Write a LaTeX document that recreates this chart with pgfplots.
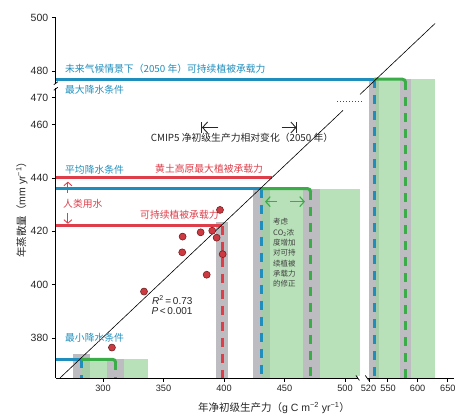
\documentclass[border=0pt]{standalone}
\usepackage{fontspec}
\setmainfont{Liberation Sans}
\newfontfamily\cjk{Noto Sans CJK SC}
\usepackage{pgfplots}
\pgfplotsset{compat=1.18}
\usetikzlibrary{arrows.meta}

\definecolor{cblue}{RGB}{32,142,188}
\definecolor{cred}{RGB}{222,62,74}
\definecolor{cgreen}{RGB}{58,172,72}
\definecolor{cgreenl}{RGB}{155,212,155}
\definecolor{cgray}{RGB}{188,188,193}
\definecolor{cpt}{RGB}{206,58,66}
\definecolor{cptd}{RGB}{110,35,35}

\begin{document}
\begin{tikzpicture}
\begin{axis}[
  x=1.21pt, y=2.667pt,
  xmin=261, xmax=590, ymin=365, ymax=500,
  axis lines*=left,
  axis line style={line width=0.8pt},
  clip=false,
  tick align=outside,
  major tick length=4pt,
  tick style={black, line width=0.8pt},
  xtick={300,350,400,450,500,520,535,560,585},
  xticklabels={300,350,400,450,500,\hspace*{-1.5pt}520,\hspace*{1.5pt}550,600,650},
  ytick={380,400,420,440,460,470,480,500},
  tick label style={font=\fontsize{10.5}{12}\selectfont, text=black!85},
  xticklabel style={font=\fontsize{9.2}{11}\selectfont},
  /pgf/number format/assume math mode=true,
  /pgf/number format/1000 sep={},
]
% gray bands round the current carrying capacity
\addplot[fill=cgray, draw=none] coordinates {(275.5,365) (289,365) (289,374) (275.5,374)};
\addplot[fill=cgray, draw=none] coordinates {(424,365) (438,365) (438,436.5) (424,436.5)};
\addplot[fill=cgray, draw=none] coordinates {(520,365) (528.3,365) (528.3,477.5) (520,477.5)};
\addplot[fill=cgray, draw=none] coordinates {(393.4,365) (403.3,365) (403.3,423.5) (393.4,423.5)};
% CO2 correction ranges
\addplot[fill=cgreenl, fill opacity=0.7, draw=none] coordinates {(283,365) (337.4,365) (337.4,372) (283,372)};
\addplot[fill=cgreenl, fill opacity=0.7, draw=none] coordinates {(431,365) (512.4,365) (512.4,436) (431,436)};
\addplot[fill=cgreenl, fill opacity=0.7, draw=none] coordinates {(525,365) (574.4,365) (574.4,477) (525,477)};
% gray bands round the 2050 capacity
\addplot[fill=cgray, draw=none] coordinates {(303,365) (317,365) (317,372) (303,372)};
\addplot[fill=cgray, draw=none] coordinates {(465,365) (479,365) (479,436) (465,436)};
\addplot[fill=cgray, draw=none] coordinates {(545.5,365) (554.3,365) (554.3,477) (545.5,477)};

% dashed verticals
\addplot[cblue, line width=3pt, dash pattern=on 9pt off 7pt] coordinates {(282.2,372) (282.2,365)};
\addplot[cblue, line width=3pt, dash pattern=on 9pt off 7pt] coordinates {(430.6,436) (430.6,365)};
\addplot[cblue, line width=3pt, dash pattern=on 9pt off 7pt] coordinates {(524.2,477) (524.2,365)};
\addplot[cred, line width=3pt, dash pattern=on 9pt off 7pt] coordinates {(398.6,422) (398.6,365)};
\addplot[cgreen, line width=3pt, dash pattern=on 9pt off 7pt] coordinates {(310.4,371.2) (310.4,365)};
\addplot[cgreen, line width=3pt, dash pattern=on 9pt off 7pt] coordinates {(471.5,435.2) (471.5,365)};
\addplot[cgreen, line width=3pt, dash pattern=on 9pt off 7pt] coordinates {(550,476.2) (550,365)};

% horizontal lines
\addplot[cblue, line width=3pt] coordinates {(261,372) (282.2,372)};
\addplot[cblue, line width=3pt] coordinates {(261,436) (430.6,436)};
\addplot[cblue, line width=3pt] coordinates {(261,477) (524.2,477)};
\addplot[cred, line width=3pt] coordinates {(261,440) (439.3,440)};
\addplot[cred, line width=3pt] coordinates {(261,422) (398.6,422)};
\addplot[cgreen, line width=3pt, rounded corners=3pt] coordinates {(282.2,372) (310.4,372) (310.4,370.8)};
\addplot[cgreen, line width=3pt, rounded corners=3pt] coordinates {(430.6,436) (471.5,436) (471.5,434.8)};
\addplot[cgreen, line width=3pt, rounded corners=3pt] coordinates {(524.2,477) (550,477) (550,475.8)};

% regression line (broken at the axis break)
\addplot[black, line width=0.6pt] coordinates {(264.5,365) (498.3,465.3)};
\addplot[black, line width=0.6pt] coordinates {(512.4,471.3) (574.4,497.9)};
\addplot[black!70, line width=1pt, dotted] coordinates {(493.4,468.6) (513.6,468.6)};

% observations
\addplot[only marks, mark=*, mark size=3.5pt, mark options={fill=cpt, draw=cptd, line width=0.6pt}]
  coordinates {(396.7,428.0) (365.8,418.0) (380.7,419.6) (390.3,420.2) (393.9,417.6)
               (365.5,412.1) (398.9,411.4) (385.7,403.7) (333.9,397.4) (307.4,376.4)};

% labels
\begin{scope}[every node/.style={inner sep=0pt, font=\fontsize{9.8}{11}\selectfont\cjk}]
\node[anchor=west, text=cblue] at (axis cs:268.6,480.9) {未来气候情景下（2050 年）可持续植被承载力};
\node[anchor=west, text=cblue] at (axis cs:268.6,473.0) {最大降水条件};
\node[anchor=west, text=cblue] at (axis cs:268.6,443.0) {平均降水条件};
\node[anchor=west, text=cblue] at (axis cs:268.6,380.0) {最小降水条件};
\node[anchor=west, text=cred] at (axis cs:343,443.4) {黄土高原最大植被承载力};
\node[anchor=west, text=cred] at (axis cs:267,430.2) {人类用水};
\node[anchor=west, text=cred] at (axis cs:330.6,426.1) {可持续植被承载力};
\node[text=black!85] at (axis cs:414.9,455) {CMIP5 净初级生产力相对变化（2050 年）};
\end{scope}
\node[anchor=north west, inner sep=0pt, align=left, text=black!75,
      font=\fontsize{7.5}{10.3}\selectfont\cjk] at (axis cs:440.5,424.8)
  {考虑\\CO\textsubscript{2}浓\\度增加\\对可持\\续植被\\承载力\\的修正};
\node[anchor=west, inner sep=0pt, font=\fontsize{10}{12}\selectfont, text=black!85]
  at (axis cs:340.5,394.2) {\textit{R}\textsuperscript{2}\,=\,0.73};
\node[anchor=west, inner sep=0pt, font=\fontsize{10}{12}\selectfont, text=black!85]
  at (axis cs:340,390.1) {\textit{P}\,<\,0.001};

% arrows
\draw[cred, line width=0.9pt, -{Straight Barb[length=3.5pt,width=8pt]}] (axis cs:271,434.4) -- (axis cs:271,438.6);
\draw[cred, line width=0.9pt, -{Straight Barb[length=3.5pt,width=8pt]}] (axis cs:271,426.9) -- (axis cs:271,422.8);
\draw[black!85, line width=0.9pt, -{Straight Barb[length=5pt,width=11pt]}] (axis cs:395.3,458.9) -- (axis cs:381.8,458.9);
\draw[black!85, line width=0.9pt] (axis cs:381.6,456.8) -- (axis cs:381.6,461);
\draw[black!85, line width=0.9pt, -{Straight Barb[length=5pt,width=11pt]}] (axis cs:447.7,458.9) -- (axis cs:459.9,458.9);
\draw[black!85, line width=0.9pt] (axis cs:460.1,456.8) -- (axis cs:460.1,461);
\draw[cgreen, line width=1.1pt, -{Straight Barb[length=4.5pt,width=10pt]}] (axis cs:443.5,431.1) -- (axis cs:433.9,431.1);
\draw[cgreen, line width=1.1pt, -{Straight Barb[length=4.5pt,width=10pt]}] (axis cs:454.5,431.1) -- (axis cs:466.9,431.1);

% axis titles
\node[rotate=90, font=\fontsize{10.5}{12}\selectfont, text=black!85] at (axis cs:233,429)
  {{\cjk 年蒸散量（}mm yr\textsuperscript{−1}{\cjk ）}};
\node[font=\fontsize{10.5}{12}\selectfont, text=black!85] at (axis cs:441.3,353.8)
  {{\cjk 年净初级生产力（}g C m\textsuperscript{−2} yr\textsuperscript{−1}{\cjk ）}};

\coordinate (yb1) at (axis cs:261,473.6);
\coordinate (yb2) at (axis cs:261,475.3);
\coordinate (xb1) at (axis cs:510.7,365);
\coordinate (xb2) at (axis cs:518,365);
\coordinate (bbl) at (axis cs:214.9,350.4);
\coordinate (btr) at (axis cs:597.5,506.7);
\end{axis}
% axis breaks
\fill[white] ([xshift=-1.5pt]yb1) rectangle ([xshift=1.5pt]yb2);
\draw[line width=0.7pt] ([xshift=-2pt,yshift=-2pt]yb1) -- ([xshift=2pt,yshift=1pt]yb1);
\draw[line width=0.7pt] ([xshift=-2pt,yshift=-1pt]yb2) -- ([xshift=2pt,yshift=2pt]yb2);
\fill[white] ([yshift=-1.5pt]xb1) rectangle ([yshift=1.5pt]xb2);
\draw[line width=0.7pt] ([xshift=-2pt,yshift=2.5pt]xb1) -- ([xshift=1.5pt,yshift=-2.5pt]xb1);
\draw[line width=0.7pt] ([xshift=-1.5pt,yshift=2.5pt]xb2) -- ([xshift=2pt,yshift=-2.5pt]xb2);
\pgfresetboundingbox
\useasboundingbox (bbl) rectangle (btr);
\end{tikzpicture}
\end{document}
